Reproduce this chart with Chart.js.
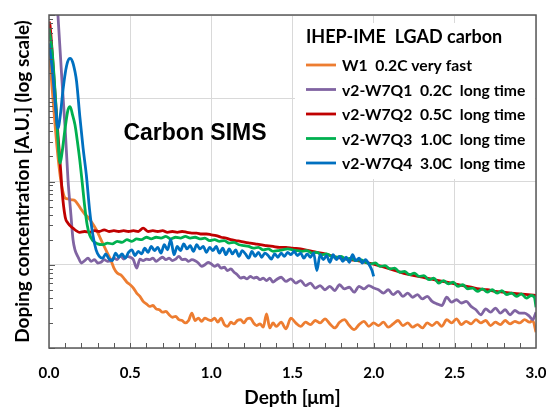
<!DOCTYPE html>
<html>
<head>
<meta charset="utf-8">
<script src="https://cdn.jsdelivr.net/npm/chart.js@4/dist/chart.umd.min.js"></script>
<style>
  html, body { margin: 0; padding: 0; background: #fff; }
</style>
</head>
<body>
<canvas id="graph" width="546" height="408"></canvas>
<script>
// depth in um, concentration in arbitrary units (log axis 1 .. 1e4)
const w1Depth = [
  0, 0.02, 0.05, 0.07, 0.085, 0.10, 0.12, 0.14, 0.16, 0.18,
  0.20, 0.22, 0.24, 0.26, 0.28, 0.30, 0.32, 0.34, 0.36, 0.38,
  0.40, 0.42, 0.44, 0.46, 0.48, 0.50, 0.52, 0.54, 0.56, 0.58,
  0.60, 0.62, 0.64, 0.66, 0.68, 0.70, 0.72, 0.74, 0.76, 0.78,
  0.80, 0.82, 0.84, 0.86, 0.88, 0.90, 0.92, 0.94, 0.96, 0.98,
  1.00, 1.02, 1.04, 1.06, 1.08, 1.10, 1.12, 1.14, 1.16, 1.18,
  1.20, 1.22, 1.24, 1.26, 1.28, 1.30, 1.32, 1.34, 1.36, 1.38,
  1.40, 1.43, 1.46, 1.49, 1.52, 1.55, 1.58, 1.61, 1.64, 1.67,
  1.70, 1.73, 1.76, 1.79, 1.82, 1.85, 1.88, 1.91, 1.94, 1.97,
  2.00, 2.03, 2.06, 2.09, 2.12, 2.15, 2.18, 2.21, 2.24, 2.27,
  2.30, 2.33, 2.36, 2.39, 2.42, 2.45, 2.48, 2.51, 2.54, 2.57,
  2.60, 2.63, 2.66, 2.69, 2.72, 2.75, 2.78, 2.81, 2.84, 2.87,
  2.90, 2.93, 2.96, 2.98, 3.00
];
const w1Values = [
  3980, 1260, 251, 112, 76, 63.1, 61.7, 60.3, 58.9, 52.5,
  45.7, 40.7, 37.2, 33.1, 28.8, 24.5, 20.0, 16.6, 13.8, 11.5,
  9.12, 7.94, 7.59, 6.92, 6.17, 5.75, 5.25, 4.57, 4.17, 3.63,
  3.39, 3.16, 3.24, 2.95, 2.88, 2.69, 2.75, 2.51, 2.34, 2.40,
  2.19, 2.14, 2.00, 2.14, 2.63, 2.14, 2.29, 2.09, 2.29, 2.19,
  2.14, 2.29, 2.04, 2.29, 1.91, 1.82, 2.04, 1.95, 2.14, 2.19,
  2.00, 2.24, 2.29, 2.00, 1.86, 1.95, 1.78, 2.57, 1.74, 2.00,
  1.82, 2.04, 1.70, 2.29, 2.00, 1.82, 2.04, 1.91, 2.14, 2.00,
  2.24, 1.95, 1.74, 2.04, 2.19, 1.86, 1.66, 1.91, 2.09, 1.82,
  2.00, 1.86, 2.04, 1.78, 1.95, 2.14, 1.86, 2.00, 1.78, 1.91,
  1.74, 2.00, 1.86, 2.04, 1.82, 2.19, 2.00, 2.24, 1.91, 2.09,
  1.95, 2.19, 2.00, 2.14, 1.86, 2.04, 1.91, 2.14, 1.95, 2.09,
  2.00, 2.19, 2.04, 2.14, 1.55
];

const q1Depth = [
  0, 0.055, 0.08, 0.10, 0.117, 0.135, 0.148, 0.16, 0.18, 0.20,
  0.22, 0.24, 0.26, 0.28, 0.30, 0.32, 0.34, 0.36, 0.38, 0.40,
  0.42, 0.44, 0.46, 0.48, 0.50, 0.52, 0.54, 0.56, 0.58, 0.60,
  0.62, 0.64, 0.66, 0.68, 0.70, 0.72, 0.74, 0.76, 0.78, 0.80,
  0.82, 0.84, 0.86, 0.88, 0.90, 0.92, 0.94, 0.96, 0.98, 1.00,
  1.02, 1.04, 1.06, 1.08, 1.10, 1.12, 1.14, 1.16, 1.18, 1.20,
  1.22, 1.24, 1.26, 1.28, 1.30, 1.32, 1.34, 1.36, 1.38, 1.40,
  1.43, 1.46, 1.49, 1.52, 1.55, 1.58, 1.61, 1.64, 1.67, 1.70,
  1.73, 1.76, 1.79, 1.82, 1.85, 1.88, 1.91, 1.94, 1.97, 2.00,
  2.03, 2.06, 2.09, 2.12, 2.15, 2.18, 2.21, 2.24, 2.27, 2.30,
  2.33, 2.36, 2.39, 2.42, 2.45, 2.48, 2.51, 2.54, 2.57, 2.60,
  2.63, 2.66, 2.69, 2.72, 2.75, 2.78, 2.81, 2.84, 2.87, 2.90,
  2.93, 2.96, 2.98, 3.00
];
const q1Values = [
  631000, 10000, 1620, 417, 105, 39.8, 20.0, 15.1, 12.3, 10.5,
  11.2, 12.0, 11.0, 11.5, 10.5, 10.7, 11.5, 11.0, 11.2, 12.0,
  11.5, 12.9, 11.7, 12.6, 12.3, 11.5, 9.12, 11.7, 11.2, 11.7,
  11.5, 12.0, 11.0, 11.7, 12.3, 11.5, 12.0, 11.2, 11.7, 12.6,
  11.5, 11.7, 11.0, 11.5, 11.2, 10.5, 9.55, 10.0, 10.7, 10.2,
  9.55, 10.0, 9.12, 9.33, 8.51, 8.91, 8.13, 7.59, 6.92, 7.08,
  6.76, 7.24, 6.92, 7.08, 6.61, 6.92, 6.46, 6.92, 6.17, 6.61,
  7.08, 6.31, 6.76, 6.03, 6.46, 5.62, 6.03, 5.25, 5.62, 5.01,
  5.50, 4.90, 5.75, 5.13, 5.37, 4.68, 5.50, 5.13, 5.62, 5.25,
  5.01, 4.57, 5.01, 4.37, 4.79, 4.17, 4.57, 4.07, 4.37, 3.89,
  4.17, 3.63, 3.39, 3.24, 4.07, 3.55, 3.80, 3.47, 3.63, 3.16,
  2.88, 2.51, 2.95, 2.69, 3.02, 2.63, 2.88, 2.51, 2.82, 2.63,
  2.63, 2.40, 2.19, 2.69
];

const q2Depth = [
  0, 0.006, 0.025, 0.043, 0.062, 0.074, 0.08, 0.10, 0.117, 0.148,
  0.19, 0.22, 0.25, 0.28, 0.31, 0.34, 0.37, 0.40, 0.43, 0.46,
  0.49, 0.52, 0.55, 0.58, 0.61, 0.64, 0.67, 0.70, 0.73, 0.76,
  0.79, 0.82, 0.85, 0.88, 0.91, 0.94, 0.97, 1.00, 1.03, 1.06,
  1.09, 1.12, 1.15, 1.18, 1.21, 1.24, 1.27, 1.30, 1.34, 1.38,
  1.42, 1.46, 1.50, 1.55, 1.60, 1.65, 1.70, 1.75, 1.80, 1.85,
  1.90, 1.95, 2.00, 2.05, 2.10, 2.15, 2.20, 2.25, 2.30, 2.35,
  2.40, 2.45, 2.50, 2.55, 2.60, 2.65, 2.70, 2.75, 2.80, 2.85,
  2.90, 2.95, 3.00
];
const q2Values = [
  8320, 7590, 2510, 776, 245, 120, 79.4, 37.2, 31.6, 27.5,
  24.5, 25.1, 24.5, 25.7, 25.1, 26.3, 25.1, 25.7, 25.1, 25.7,
  25.1, 25.7, 25.1, 27.5, 25.1, 25.7, 25.1, 25.7, 24.5, 25.1,
  24.5, 25.1, 24.5, 24.0, 24.0, 23.4, 23.4, 22.9, 22.4, 21.4,
  20.9, 20.0, 19.5, 19.1, 18.6, 18.2, 17.8, 17.4, 17.0, 16.6,
  16.2, 16.2, 15.8, 15.5, 14.8, 14.1, 13.5, 12.6, 12.0, 11.5,
  11.2, 10.7, 10.2, 9.55, 8.91, 8.32, 7.76, 7.41, 7.08, 6.76,
  6.46, 6.17, 5.89, 5.62, 5.37, 5.13, 5.01, 4.79, 4.68, 4.57,
  4.47, 4.37, 4.27
];

const q3Depth = [
  0, 0.02, 0.04, 0.055, 0.068, 0.08, 0.10, 0.117, 0.13, 0.145,
  0.16, 0.175, 0.19, 0.205, 0.22, 0.235, 0.25, 0.27, 0.30, 0.33,
  0.36, 0.39, 0.42, 0.45, 0.48, 0.51, 0.54, 0.57, 0.60, 0.63,
  0.66, 0.69, 0.72, 0.75, 0.78, 0.81, 0.84, 0.87, 0.90, 0.93,
  0.96, 0.99, 1.02, 1.05, 1.08, 1.11, 1.14, 1.17, 1.20, 1.23,
  1.26, 1.29, 1.32, 1.35, 1.38, 1.41, 1.44, 1.47, 1.50, 1.53,
  1.56, 1.59, 1.62, 1.65, 1.68, 1.71, 1.74, 1.77, 1.80, 1.83,
  1.86, 1.89, 1.92, 1.95, 1.98, 2.01, 2.04, 2.07, 2.10, 2.13,
  2.16, 2.19, 2.22, 2.25, 2.28, 2.31, 2.34, 2.37, 2.40, 2.43,
  2.46, 2.49, 2.52, 2.55, 2.58, 2.61, 2.64, 2.67, 2.70, 2.73,
  2.76, 2.79, 2.82, 2.85, 2.88, 2.91, 2.94, 2.97, 2.99, 3.00
];
const q3Values = [
  6920, 3550, 1000, 316, 166, 219, 447, 724, 794, 631,
  479, 302, 178, 95.5, 50.1, 30.2, 22.9, 19.5, 17.8, 17.4,
  18.2, 17.8, 19.1, 18.6, 20.0, 19.1, 20.4, 20.0, 21.4, 20.4,
  21.4, 20.9, 21.9, 20.4, 21.4, 20.9, 21.9, 20.9, 21.4, 20.4,
  20.9, 19.5, 20.0, 19.1, 19.5, 18.2, 18.6, 17.4, 17.0, 16.6,
  15.8, 16.2, 15.1, 15.5, 14.5, 14.8, 15.1, 15.5, 15.1, 14.8,
  14.5, 14.8, 13.8, 14.1, 13.2, 13.5, 12.6, 12.3, 12.6, 11.7,
  12.0, 11.2, 11.5, 10.7, 10.2, 10.5, 9.55, 9.77, 8.91, 9.12,
  8.13, 8.32, 7.59, 7.94, 7.24, 7.41, 6.61, 6.92, 6.03, 6.46,
  5.89, 6.17, 5.50, 5.75, 5.13, 5.25, 4.79, 5.13, 4.68, 5.01,
  4.57, 4.90, 4.37, 4.57, 4.17, 4.47, 3.98, 4.27, 4.07, 3.09
];

const q4Depth = [
  0, 0.02, 0.04, 0.055, 0.07, 0.085, 0.10, 0.115, 0.13, 0.145,
  0.16, 0.17, 0.19, 0.21, 0.23, 0.25, 0.27, 0.29, 0.31, 0.33,
  0.35, 0.37, 0.39, 0.41, 0.43, 0.45, 0.47, 0.49, 0.51, 0.53,
  0.55, 0.57, 0.59, 0.61, 0.63, 0.65, 0.67, 0.69, 0.71, 0.73,
  0.75, 0.77, 0.79, 0.81, 0.83, 0.85, 0.87, 0.89, 0.91, 0.93,
  0.95, 0.97, 0.99, 1.01, 1.03, 1.05, 1.07, 1.09, 1.11, 1.13,
  1.15, 1.17, 1.19, 1.21, 1.23, 1.25, 1.27, 1.29, 1.31, 1.33,
  1.35, 1.37, 1.39, 1.41, 1.43, 1.45, 1.47, 1.49, 1.51, 1.53,
  1.55, 1.57, 1.59, 1.61, 1.63, 1.65, 1.67, 1.69, 1.71, 1.73,
  1.75, 1.77, 1.79, 1.81, 1.83, 1.85, 1.87, 1.89, 1.91, 1.93,
  1.95, 1.97, 1.99, 2.00
];
const q4Values = [
  4570, 2240, 794, 437, 631, 1200, 2000, 2750, 3020, 2750,
  2090, 1585, 603, 251, 120, 45.7, 22.9, 15.1, 12.6, 12.0,
  13.5, 11.7, 11.2, 13.8, 12.3, 13.5, 12.0, 14.1, 15.1, 12.9,
  14.5, 13.5, 15.8, 14.1, 16.6, 14.8, 16.2, 13.8, 17.4, 15.1,
  20.0, 13.2, 16.6, 14.8, 17.8, 15.5, 17.0, 14.5, 17.4, 15.5,
  16.6, 14.1, 16.2, 14.8, 16.6, 13.8, 15.8, 13.2, 15.5, 13.5,
  15.1, 12.6, 14.8, 13.5, 12.0, 14.5, 12.6, 14.1, 12.3, 13.8,
  12.9, 11.7, 13.5, 12.3, 13.8, 12.6, 14.1, 13.2, 14.5, 12.9,
  13.8, 12.0, 13.5, 12.3, 13.8, 8.51, 13.2, 11.5, 12.9, 10.7,
  13.2, 11.5, 12.6, 11.0, 12.3, 10.7, 13.2, 11.2, 12.0, 10.5,
  11.5, 10.2, 8.51, 7.24
];

const seriesLabels = [
  'W1  0.2C very fast',
  'v2-W7Q1  0.2C  long time',
  'v2-W7Q2  0.5C  long time',
  'v2-W7Q3  1.0C  long time',
  'v2-W7Q4  3.0C  long time'
];
const seriesColors = ['#ED7D31', '#8064A2', '#C00000', '#00B050', '#0070C0'];
const xTickStep = 0.5;
const yDecades = [1, 10, 100, 1000, 10000];
const legendTitle = 'IHEP-IME  LGAD carbon';
const noteText = 'Carbon SIMS';

const depths = [w1Depth, q1Depth, q2Depth, q3Depth, q4Depth];
const values = [w1Values, q1Values, q2Values, q3Values, q4Values];

const datasets = seriesLabels.map((label, i) => ({
  label: label,
  data: depths[i].map((d, j) => ({x: d, y: values[i][j]})),
  borderColor: seriesColors[i],
  backgroundColor: seriesColors[i],
  borderWidth: 2.8,
  pointRadius: 0,
  fill: false,
  cubicInterpolationMode: 'monotone',
  order: seriesLabels.length - i
}));

const font = 'Lato, "Open Sans", sans-serif';

const decorations = {
  id: 'decorations',
  beforeDatasetsDraw(chart) {
    const ctx = chart.ctx;
    // white legend box hides the grid behind it
    ctx.save();
    ctx.fillStyle = '#fff';
    ctx.fillRect(295, 23, chart.chartArea.right - 296, 156);
    ctx.restore();
  },
  afterDatasetsDraw(chart) {
    const {ctx, chartArea: a, scales: {x, y}} = chart;
    ctx.save();
    ctx.strokeStyle = '#595959';
    ctx.lineWidth = 1;
    ctx.beginPath();
    for (let i = 1; i < 30; i++) {
      const px = Math.round(x.getPixelForValue(i / 10)) + 0.5;
      ctx.moveTo(px, a.bottom);
      ctx.lineTo(px, a.bottom - 5);
    }
    for (let d = 1; d < 10000; d *= 10) {
      for (let m = 1; m <= 10; m++) {
        const py = Math.round(y.getPixelForValue(d * m)) + 0.5;
        const len = (m === 1 || m === 10) ? 6 : 4;
        ctx.moveTo(a.left, py);
        ctx.lineTo(a.left + len, py);
      }
    }
    ctx.stroke();
    ctx.lineWidth = 1.5;
    ctx.strokeRect(a.left, a.top, a.right - a.left, a.bottom - a.top);
    ctx.restore();
  },
  afterDraw(chart) {
    const ctx = chart.ctx;
    ctx.save();
    ctx.fillStyle = '#000';
    ctx.textBaseline = 'middle';
    ctx.textAlign = 'center';
    ctx.font = 'bold 23px "Liberation Sans", Arial, sans-serif';
    ctx.fillText(noteText, 195, 134);

    ctx.textAlign = 'left';
    ctx.font = 'bold 18px ' + font;
    ctx.fillText(legendTitle, 306, 37);
    ctx.font = 'bold 15.7px ' + font;
    chart.data.datasets.forEach((ds, i) => {
      const ly = 65 + i * 24.5;
      ctx.strokeStyle = ds.borderColor;
      ctx.lineWidth = 2.8;
      ctx.beginPath();
      ctx.moveTo(306, ly);
      ctx.lineTo(336, ly);
      ctx.stroke();
      ctx.fillText(ds.label, 342, ly + 1);
    });
    ctx.restore();
  }
};

const config = {
  type: 'line',
  data: {datasets: datasets},
  options: {
    responsive: false,
    animation: false,
    layout: {padding: {left: 0, right: 10, top: 15, bottom: 0}},
    plugins: {legend: {display: false}, tooltip: {enabled: false}},
    scales: {
      x: {
        type: 'linear',
        min: 0,
        max: 3,
        ticks: {
          stepSize: xTickStep,
          callback: v => v.toFixed(1),
          color: '#000',
          padding: 16,
          font: {family: font, size: 15, weight: 'bold'}
        },
        grid: {color: '#d9d9d9', lineWidth: 1, drawTicks: false},
        border: {display: false},
        title: {
          display: true,
          text: 'Depth [μm]',
          color: '#000',
          padding: {top: 0, bottom: 1},
          font: {family: font, size: 19, weight: 'bold', lineHeight: 1}
        },
        afterFit: s => { s.height = 60; s.paddingLeft = 0; s.paddingRight = 0; }
      },
      y: {
        type: 'logarithmic',
        min: 1,
        max: 10000,
        afterBuildTicks: s => { s.ticks = yDecades.map(v => ({value: v})); },
        ticks: {display: false},
        grid: {color: '#d9d9d9', lineWidth: 1, drawTicks: false},
        border: {display: false},
        title: {
          display: true,
          text: 'Doping concentration [A.U.] (log scale)',
          color: '#000',
          padding: {top: 13, bottom: 0},
          font: {family: font, size: 19, weight: 'bold', lineHeight: 1}
        },
        afterFit: s => { s.width = 49; }
      }
    }
  },
  plugins: [decorations]
};

new Chart(document.getElementById('graph'), config);
</script>
</body>
</html>
